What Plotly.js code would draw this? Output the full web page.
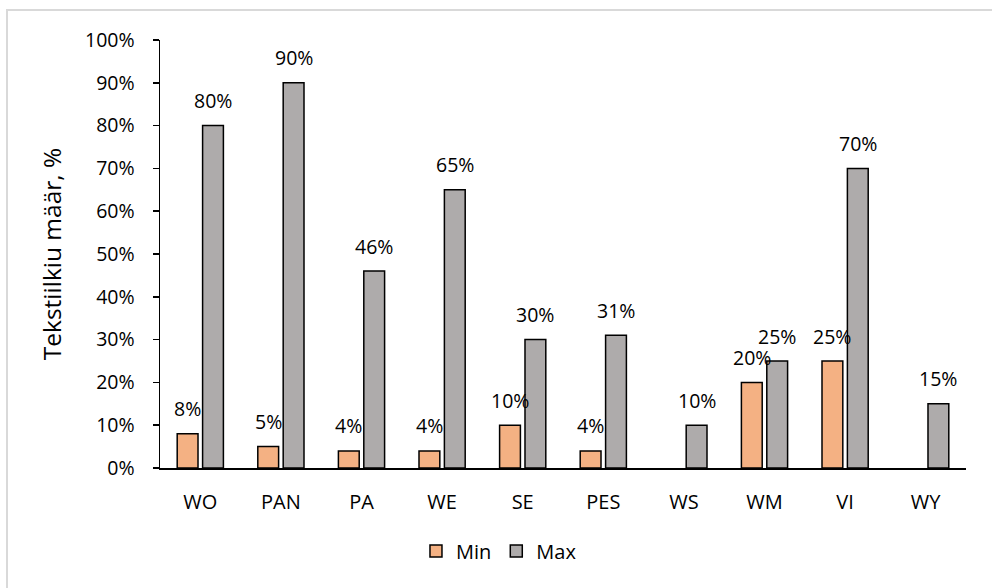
<!DOCTYPE html>
<html>
<head>
<meta charset="utf-8">
<script src="https://cdn.plot.ly/plotly-3.0.1.min.js"></script>
<style>
  html, body { margin: 0; padding: 0; background: #ffffff; overflow: hidden; }
  #chart { width: 992px; height: 588px; }
  #frame {
    position: absolute; left: 6px; top: 9px; width: 1010px; height: 600px;
    border: 2px solid #d9d9d9; box-sizing: border-box; pointer-events: none;
  }
</style>
</head>
<body>
<div id="chart"></div>
<div id="frame"></div>
<script>
// Textile content per fibre group (fractions)
const categories = ["WO", "PAN", "PA", "WE", "SE", "PES", "WS", "WM", "VI", "WY"];
const minValues  = [0.08, 0.05, 0.04, 0.04, 0.10, 0.04, null, 0.20, 0.25, null];
const maxValues  = [0.80, 0.90, 0.46, 0.65, 0.30, 0.31, 0.10, 0.25, 0.70, 0.15];
const yTickVals  = [0, 0.1, 0.2, 0.3, 0.4, 0.5, 0.6, 0.7, 0.8, 0.9, 1.0];
const yTickText  = ["0%", "10%", "20%", "30%", "40%", "50%", "60%", "70%", "80%", "90%", "100%"];

const FONT = "'Open Sans', 'Noto Sans', 'Liberation Sans', sans-serif";
const ORANGE = "#F4B183";
const GREY = "#AEABAB";

const bargap = 0.37;
const bargroupgap = 0.18;
const plotLeft = 160, plotRight = 25.5;
const plotWidth = 992 - plotLeft - plotRight;
// half a group slot, in pixels: offset of each bar's centre from its category
const slotShift = (plotWidth / categories.length) * (1 - bargap) / 4;

const traces = [
  {
    type: "bar", name: "Min", x: categories, y: minValues,
    marker: { color: ORANGE, line: { color: "#000000", width: 1.5 } },
    hoverinfo: "x+y"
  },
  {
    type: "bar", name: "Max", x: categories, y: maxValues,
    marker: { color: GREY, line: { color: "#000000", width: 1.5 } },
    hoverinfo: "x+y"
  }
];

// Value labels above each bar
const annotations = [];
[[minValues, -slotShift], [maxValues, slotShift]].forEach(([vals, dx]) => {
  vals.forEach((v, i) => {
    if (v === null) return;
    annotations.push({
      x: categories[i], y: v, xref: "x", yref: "y",
      text: Math.round(v * 100) + "%",
      showarrow: false, xshift: dx, yshift: 25,
      xanchor: "center", yanchor: "middle",
      font: { family: FONT, size: 19.5, color: "#000000" }
    });
  });
});

const layout = {
  width: 992, height: 588,
  margin: { l: plotLeft, r: plotRight, t: 39.5, b: 119.5, pad: 0 },
  paper_bgcolor: "#ffffff", plot_bgcolor: "#ffffff",
  font: { family: FONT, size: 19.5, color: "#000000" },
  barmode: "group", bargap: bargap, bargroupgap: bargroupgap,
  showlegend: true,
  legend: {
    orientation: "h", x: 0.503, y: 1 - 551 / 588, xref: "container", yref: "container",
    xanchor: "center", yanchor: "middle",
    font: { family: FONT, size: 20, color: "#000000" },
    itemwidth: 30, traceorder: "normal"
  },
  xaxis: {
    type: "category", showgrid: false, zeroline: false,
    showline: true, linecolor: "#000000", linewidth: 1.5,
    ticks: "", ticklabelstandoff: 15,
    tickfont: { family: FONT, size: 20, color: "#000000" },
    fixedrange: true
  },
  yaxis: {
    range: [0, 1], tickvals: yTickVals, ticktext: yTickText,
    showgrid: false, zeroline: false,
    showline: true, linecolor: "#000000", linewidth: 1.5,
    ticks: "outside", ticklen: 6, tickwidth: 1.5, tickcolor: "#000000",
    ticklabelstandoff: 14,
    tickfont: { family: FONT, size: 19.5, color: "#000000" },
    title: { text: "Tekstiilkiu määr, %", font: { family: FONT, size: 24.5, color: "#000000" }, standoff: 16 },
    fixedrange: true
  },
  annotations: annotations
};

Plotly.newPlot("chart", traces, layout, { displayModeBar: false, staticPlot: true });
</script>
</body>
</html>
